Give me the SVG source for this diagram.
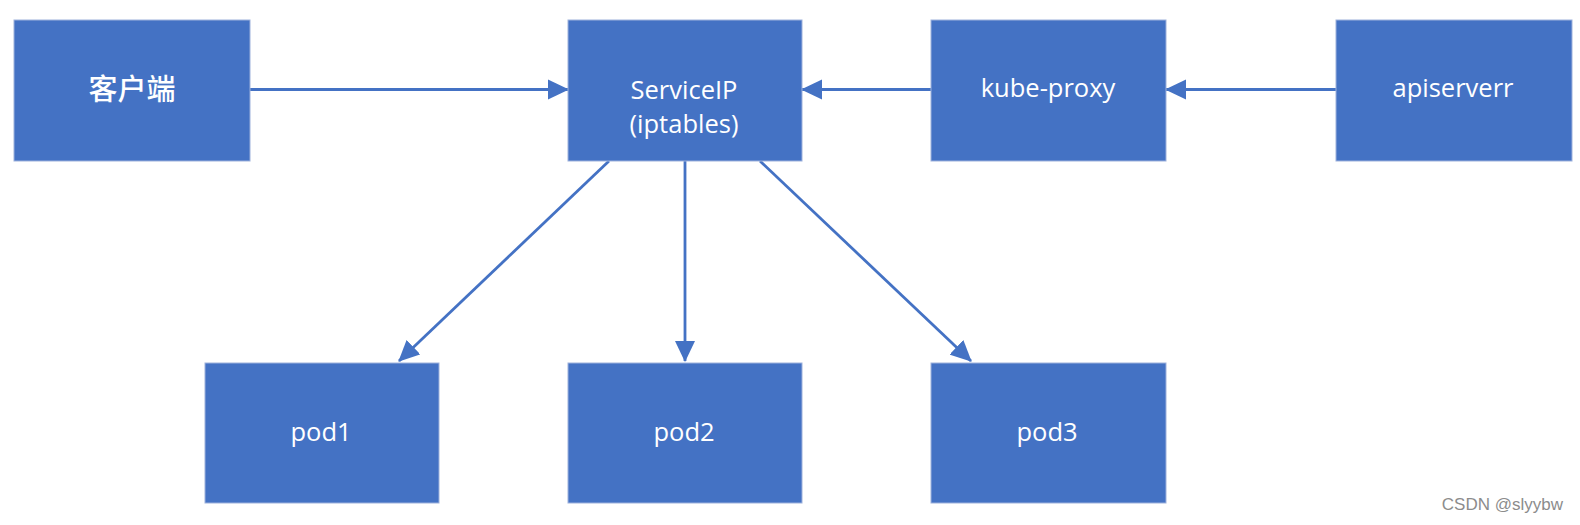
<svg xmlns="http://www.w3.org/2000/svg" width="1580" height="525" viewBox="0 0 1580 525">
  <style>
    .box { fill: #4472C4; stroke: #9DB1DC; stroke-width: 1; }
    .lbl { fill: #FFFFFF; font-family: "Open Sans", "Noto Sans", sans-serif; font-size: 25.5px; font-weight: 500; text-anchor: middle; }
    .cjk { fill: #FFFFFF; font-family: "Noto Sans CJK SC", sans-serif; font-size: 29px; font-weight: 500; text-anchor: middle; }
    .edge { fill: none; stroke: #4472C4; stroke-width: 2.8; marker-end: url(#arrow); }
    .wm { fill: #8C8C8C; font-family: "Liberation Sans", Arial, sans-serif; font-size: 17px; text-anchor: end; }
  </style>
  <defs>
    <marker id="arrow" markerUnits="userSpaceOnUse" markerWidth="21" markerHeight="21" viewBox="0 0 21 21" refX="20" refY="10.5" orient="auto">
      <path d="M0,0.5 L21,10.5 L0,20.5 z" fill="#4472C4"/>
    </marker>
  </defs>
  <rect width="1580" height="525" fill="#FFFFFF"/>

  <g id="connectors">
    <path id="e-client-svc" class="edge" d="M250,89.5 L568,89.5"/>
    <path id="e-proxy-svc" class="edge" d="M931,89.5 L802,89.5"/>
    <path id="e-api-proxy" class="edge" d="M1336,89.5 L1166,89.5"/>
    <path id="e-svc-pod1" class="edge" d="M609,161 L399,361"/>
    <path id="e-svc-pod2" class="edge" d="M685,161 L685,361"/>
    <path id="e-svc-pod3" class="edge" d="M760,161 L971,361"/>
  </g>

  <g id="client">
    <rect class="box" x="14" y="20" width="236" height="141"/>
    <text class="cjk" x="132" y="100">客户端</text>
  </g>
  <g id="serviceip">
    <rect class="box" x="568" y="20" width="234" height="141"/>
    <text class="lbl" x="684" y="98.5">ServiceIP</text>
    <text class="lbl" x="684" y="133">(iptables)</text>
  </g>
  <g id="kube-proxy">
    <rect class="box" x="931" y="20" width="235" height="141"/>
    <text class="lbl" x="1048" y="96.5">kube-proxy</text>
  </g>
  <g id="apiserverr">
    <rect class="box" x="1336" y="20" width="236" height="141"/>
    <text class="lbl" x="1453" y="96.5">apiserverr</text>
  </g>
  <g id="pod1">
    <rect class="box" x="205" y="363" width="234" height="140"/>
    <text class="lbl" x="321" y="440.5">pod1</text>
  </g>
  <g id="pod2">
    <rect class="box" x="568" y="363" width="234" height="140"/>
    <text class="lbl" x="684" y="440.5">pod2</text>
  </g>
  <g id="pod3">
    <rect class="box" x="931" y="363" width="235" height="140"/>
    <text class="lbl" x="1047" y="440.5">pod3</text>
  </g>

  <text class="wm" x="1563" y="510">CSDN @slyybw</text>
</svg>
